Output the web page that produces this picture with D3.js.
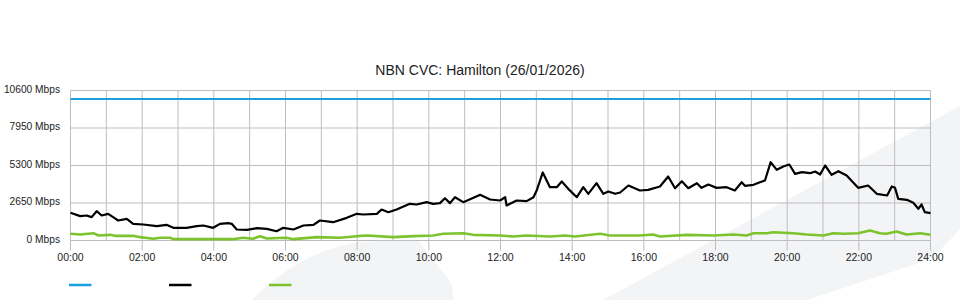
<!DOCTYPE html>
<html>
<head>
<meta charset="utf-8">
<script src="https://cdn.jsdelivr.net/npm/d3@7"></script>
<style>
  html, body { margin: 0; padding: 0; background: #fff; }
  svg { display: block; font-family: "Liberation Sans", Arial, sans-serif; }
  .tick text { fill: #222; }
</style>
</head>
<body>
<div id="chart"></div>
<script>
// hours of day for each reading, and Mbps
var capacityHours = [0, 24];
var capacityMbps = [10000, 10000];

var downHours = [0, 0.27, 0.45, 0.59, 0.73, 0.87, 1.05, 1.19, 1.33, 1.57, 1.75, 2.03, 2.41, 2.68, 2.87,
  3.24, 3.52, 3.71, 3.98, 4.17, 4.4, 4.5, 4.64, 4.92, 5.2, 5.48, 5.75, 5.94, 6.22, 6.5, 6.78, 6.96,
  7.33, 7.71, 7.99, 8.17, 8.55, 8.68, 8.87, 9.1, 9.47, 9.66, 9.94, 10.12, 10.31, 10.45, 10.59, 10.73,
  10.96, 11.34, 11.43, 11.71, 11.99, 12.13, 12.17, 12.45, 12.73, 12.92, 13.01, 13.18, 13.38, 13.57,
  13.71, 13.89, 14.13, 14.31, 14.45, 14.68, 14.87, 15.01, 15.2, 15.34, 15.57, 15.89, 16.12, 16.45,
  16.68, 16.87, 17.06, 17.24, 17.48, 17.61, 17.8, 18.03, 18.31, 18.54, 18.73, 18.82, 19.06, 19.24,
  19.38, 19.54, 19.71, 19.89, 20.06, 20.22, 20.41, 20.64, 20.78, 20.92, 21.06, 21.24, 21.43, 21.66,
  21.98, 22.26, 22.5, 22.79, 22.92, 23.01, 23.1, 23.34, 23.52, 23.66, 23.75, 23.84, 24];
var downMbps = [1957, 1720, 1767, 1650, 2070, 1767, 1885, 1650, 1413, 1532, 1178, 1130, 1010, 1107, 897,
  897, 1010, 1060, 897, 1178, 1225, 1178, 777, 754, 870, 826, 657, 897, 777, 1060, 1107, 1413,
  1295, 1602, 1885, 1837, 1885, 2190, 2000, 2190, 2592, 2544, 2710, 2592, 2639, 2990, 2639, 3060,
  2710, 3130, 3225, 2897, 2827, 3060, 2473, 2827, 2780, 3060, 3533, 4810, 3767, 3767,
  4170, 3650, 3060, 3767, 3300, 4050, 3300, 3463, 3300, 3392, 3887, 3533, 3580, 3816,
  4523, 3697, 4193, 3697, 4050, 3720, 3957, 3720, 3767, 3533, 4120, 3863, 3933, 4120,
  4240, 5533, 4995, 5230, 5370, 4713, 4830, 4757, 4877, 4664, 5300, 4640, 4900, 4594,
  3720, 3887, 3300, 3180, 3816, 3720, 2945, 2875, 2663, 2240, 2544, 2000, 1930];

var upHours = [0, 0.27, 0.64, 0.78, 1.1, 1.24, 1.75, 1.94, 2.31, 2.5, 2.78, 2.87, 3.61, 4.53, 4.81,
  5.09, 5.29, 5.48, 6.03, 6.22, 6.87, 7.52, 7.99, 8.27, 9.01, 9.57, 10.12, 10.4, 10.96, 11.24,
  11.99, 12.36, 12.73, 13.38, 13.8, 14.08, 14.78, 15.06, 15.89, 16.26, 16.45, 17.2, 17.94, 18.5,
  18.87, 19.06, 19.43, 19.61, 20.17, 20.55, 21.01, 21.29, 21.57, 21.98, 22.31, 22.59, 22.77,
  23.05, 23.33, 23.71, 24];
var upMbps = [473, 424, 517, 353, 400, 330, 330, 236, 118, 190, 190, 94, 94, 94, 190,
  118, 306, 141, 190, 94, 236, 190, 306, 353, 236, 306, 353, 473, 517, 400,
  353, 283, 353, 283, 353, 283, 473, 353, 353, 424, 283, 400, 353, 424,
  353, 517, 517, 588, 517, 424, 353, 517, 473, 517, 707, 517, 473,
  636, 424, 517, 400];

var yTicks = [0, 2650, 5300, 7950, 10600];
var xHourTicks = [0, 2, 4, 6, 8, 10, 12, 14, 16, 18, 20, 22, 24];
var seriesColors = ["#1ba1e2", "#000000", "#7dc32d"];
var chartTitle = "NBN CVC: Hamilton (26/01/2026)";

var width = 960, height = 300;
var margin = {top: 90.5, right: 29.5, bottom: 59.5, left: 70.5};
var gridColor = "#bdbdbd";

var svg = d3.select("#chart").append("svg")
    .attr("width", width)
    .attr("height", height);

// faint logo watermark behind everything
svg.append("path")
    .attr("d", "M252,300 C285,266 325,245 366,241.5 L418,240 L452,284 L453,300 Z")
    .style("fill", "#f3f4f6");
svg.append("path")
    .attr("d", "M603,300 L960,106 L960,229 C945,246 935,256 922,262 L807,300 Z")
    .style("fill", "#f3f4f6");

var x = d3.scaleLinear().domain([0, 24]).range([margin.left, width - margin.right]);
var y = d3.scaleLinear().domain([0, 10600]).range([height - margin.bottom, margin.top]);

// grid
var hours = d3.range(0, 25);
svg.append("g").selectAll("line.vgrid")
    .data(hours)
    .enter().append("line")
        .attr("class", "vgrid")
        .attr("x1", function(d) { return x(d); })
        .attr("x2", function(d) { return x(d); })
        .attr("y1", y(10600))
        .attr("y2", y(0))
        .style("stroke", gridColor)
        .style("stroke-width", 1);

svg.append("g").selectAll("line.hgrid")
    .data(yTicks)
    .enter().append("line")
        .attr("class", "hgrid")
        .attr("x1", x(0))
        .attr("x2", x(24))
        .attr("y1", function(d) { return y(d); })
        .attr("y2", function(d) { return y(d); })
        .style("stroke", gridColor)
        .style("stroke-width", 1);

// axes
var xAxis = d3.axisBottom(x)
    .tickValues(xHourTicks)
    .tickSize(10)
    .tickPadding(3)
    .offset(0)
    .tickFormat(function(d) { return d3.format("02d")(d) + ":00"; });

var gx = svg.append("g")
    .attr("transform", "translate(0," + y(0) + ")")
    .call(xAxis);
gx.select(".domain").remove();
gx.selectAll(".tick line").style("stroke", gridColor);
gx.selectAll(".tick text")
    .style("font-size", "10.5px")
    .style("font-family", "'Liberation Sans', Arial, sans-serif");

var yAxis = d3.axisLeft(y)
    .tickValues(yTicks)
    .tickSize(0)
    .tickPadding(10.5)
    .offset(0)
    .tickFormat(function(d) { return d + " Mbps"; });

var gy = svg.append("g")
    .attr("transform", "translate(" + x(0) + ",0)")
    .call(yAxis);
gy.select(".domain").remove();
gy.selectAll(".tick text")
    .attr("dy", "0.2em")
    .style("font-size", "10.2px")
    .style("font-family", "'Liberation Sans', Arial, sans-serif");

// series
var series = [
    {hours: capacityHours, values: capacityMbps, width: 2.2},
    {hours: downHours, values: downMbps, width: 2.2},
    {hours: upHours, values: upMbps, width: 2.6}
];

var line = d3.line()
    .x(function(d) { return x(d[0]); })
    .y(function(d) { return y(d[1]); });

svg.append("g").selectAll("path.series")
    .data(series)
    .enter().append("path")
        .attr("class", "series")
        .attr("d", function(s) { return line(d3.zip(s.hours, s.values)); })
        .style("fill", "none")
        .style("stroke", function(s, i) { return seriesColors[i]; })
        .style("stroke-width", function(s) { return s.width; })
        .style("stroke-linejoin", "round");

// title
svg.append("text")
    .attr("x", 480)
    .attr("y", 75)
    .attr("text-anchor", "middle")
    .style("font-size", "14px")
    .style("fill", "#222")
    .text(chartTitle);

// legend swatches (no labels in the source)
svg.append("g").selectAll("line.legend")
    .data(seriesColors)
    .enter().append("line")
        .attr("class", "legend")
        .attr("x1", function(d, i) { return 69 + i * 100; })
        .attr("x2", function(d, i) { return 91.5 + i * 100; })
        .attr("y1", 285)
        .attr("y2", 285)
        .style("stroke", function(d) { return d; })
        .style("stroke-width", 2.5);
</script>
</body>
</html>
